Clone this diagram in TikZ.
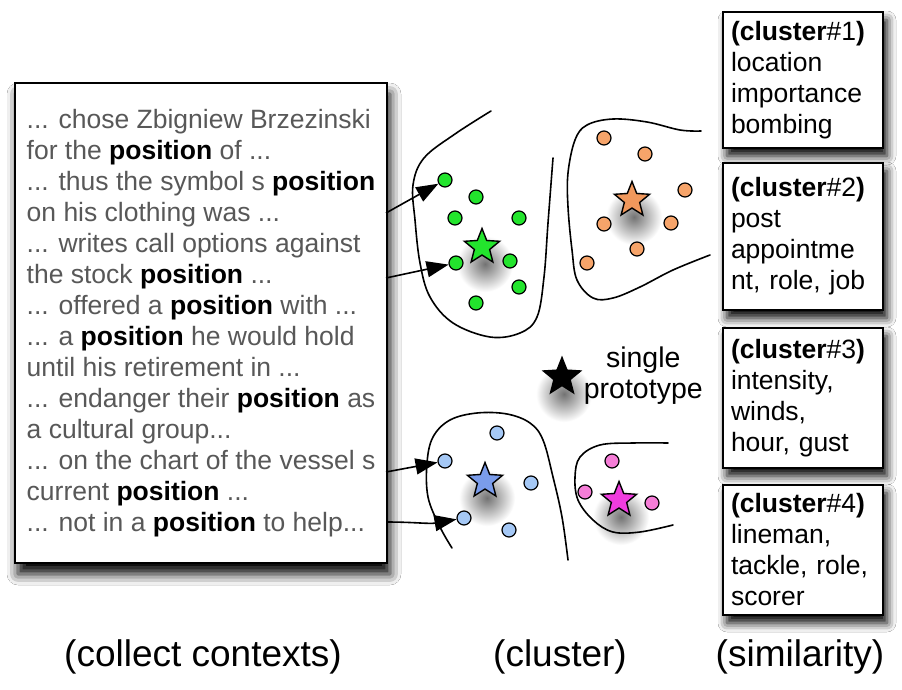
\documentclass[tikz,border=0pt]{standalone}
\usepackage{fontspec}
\setmainfont{Liberation Sans}
\usepackage{tikz}
\usetikzlibrary{shapes.geometric,arrows.meta,shadows.blur,positioning}
\definecolor{ctxgray}{RGB}{88,88,88}
\definecolor{dotgreen}{RGB}{35,228,45}
\definecolor{dotorange}{RGB}{246,164,106}
\definecolor{starorange}{RGB}{240,152,92}
\definecolor{dotblue}{RGB}{165,200,245}
\definecolor{starblue}{RGB}{122,156,235}
\definecolor{dotpink}{RGB}{245,125,215}
\definecolor{starpink}{RGB}{240,60,222}
\newcommand{\kw}{{\color{black}\bfseries position}}
\newcommand{\clu}[1]{\textbf{(cluster}\##1\textbf{)}}

\begin{document}
\begin{tikzpicture}[x=1pt, y=-1pt,
    every node/.style={font=\fontsize{26.5}{31}\selectfont},
    ctxbox/.style={draw, line width=1.6pt, fill=white, align=left, text=ctxgray,
                   minimum width=372pt, minimum height=480pt, inner sep=0pt,
                   blur shadow={shadow xshift=3pt, shadow yshift=-11pt, shadow blur radius=11pt, shadow opacity=100}},
    simbox/.style={draw, line width=1.6pt, fill=white, align=left, text width=144pt,
                   minimum width=160pt, inner sep=0pt,
                   blur shadow={shadow xshift=4pt, shadow yshift=-8pt, shadow blur radius=9pt, shadow opacity=100}},
    dot/.style={circle, draw, line width=1.2pt, minimum size=14pt, inner sep=0pt},
    proto/.style={star, star points=5, star point ratio=2.3, draw, line width=1.4pt,
                  minimum size=37pt, inner sep=0pt},
    glow/.style={inner color=black!55, outer color=white},
    bound/.style={line width=1.6pt, line cap=round},
    arrow/.style={-{Triangle[length=22pt,width=16pt]}, line width=1.6pt},
    caption/.style={font=\fontsize{37}{44}\selectfont}
]
\fill[white] (0,0) rectangle (902,690);
\useasboundingbox (0,0) rectangle (902,690);

% contexts
\node[ctxbox] (ctx) at (201,323) {%
... chose Zbigniew Brzezinski\\
for the \kw{} of ...\\
... thus the symbol s \kw\\
on his clothing was ...\\
... writes call options against\\
the stock \kw{} ...\\
... offered a \kw{} with ...\\
... a \kw{} he would hold\\
until his retirement in ...\\
... endanger their \kw{} as\\
a cultural group...\\
... on the chart of the vessel s\\
current \kw{} ...\\
... not in a \kw{} to help...};

% similarity boxes
\node[simbox, minimum height=136pt] (c1) at (803,80)    {\clu{1}\\location\\importance\\bombing};
\node[simbox, minimum height=147pt] (c2) at (803,236.5) {\clu{2}\\post\\appointme\\nt, role, job};
\node[simbox, minimum height=140pt] (c3) at (803,398)   {\clu{3}\\intensity,\\winds,\\hour, gust};
\node[simbox, minimum height=130pt] (c4) at (803,550)   {\clu{4}\\lineman,\\tackle, role,\\scorer};

% star shadows
\shade[glow] (485,264) circle (28);
\shade[glow] (634,217) circle (28);
\shade[glow] (487,498) circle (28);
\shade[glow] (621,517) circle (28);
\shade[glow] (564,394) circle (28);

% cluster boundaries
\draw[bound] plot[smooth, tension=0.6] coordinates {(491,111) (455,134) (424,158) (413,185) (415,220)
    (420,263) (430,297) (453,323) (490,337) (520,333) (537,317) (544,277) (548,223) (553,158)};
\draw[bound] plot[smooth, tension=0.6] coordinates {(701,131) (680,130) (647,122) (613,119) (587,125)
    (575,140) (568,173) (568,207) (572,250) (577,280) (593,298) (613,298) (640,287) (673,270) (710,255)};
\draw[bound] plot[smooth, tension=0.6] coordinates {(452,548) (440,527) (428,497) (427,463) (433,437)
    (450,420) (477,413) (507,414) (530,423) (543,440) (553,477) (562,517) (568,560)};
\draw[bound] plot[smooth, tension=0.6] coordinates {(668,443) (633,443) (600,445) (580,457) (575,477)
    (578,500) (593,520) (613,532) (640,532) (673,525)};

% green cluster
\foreach \n/\x/\y in {1/445/180, 2/476/197, 3/455/218, 4/519/218, 5/456/263, 6/510/261, 7/519/287, 8/476/303}
    \node[dot, fill=dotgreen] (g\n) at (\x,\y) {};
\node[proto, fill=dotgreen] (gs) at (482,247) {};

% orange cluster
\foreach \n/\x/\y in {1/604/138, 2/645/154, 3/685/190, 4/604/224, 5/671/223, 6/637/249, 7/587/263}
    \node[dot, fill=dotorange] (o\n) at (\x,\y) {};
\node[proto, fill=starorange] (os) at (632,200) {};

% blue cluster
\foreach \n/\x/\y in {1/497/433, 2/445/461, 3/531/483, 4/464/518, 5/509/530}
    \node[dot, fill=dotblue] (b\n) at (\x,\y) {};
\node[proto, fill=starblue] (bs) at (485,481) {};

% pink cluster
\foreach \n/\x/\y in {1/612/461, 2/585/492, 3/652/503}
    \node[dot, fill=dotpink] (p\n) at (\x,\y) {};
\node[proto, fill=starpink] (ps) at (619,500) {};

% single prototype
\node[proto, fill=black, minimum size=39pt] (single) at (562,377) {};
\node[align=center, font=\fontsize{28.5}{31}\selectfont, right=6pt of single, yshift=1pt] (singlelbl) {single\\prototype};

% arrows
\coordinate (s1) at (386,213);
\coordinate (s2) at (386,278);
\coordinate (s3) at (386,472);
\coordinate (s4) at (386,522);
\draw[arrow] (s1) -- (g1);
\draw[arrow] (s2) -- (g5);
\draw[arrow] (s3) -- (b2);
\draw[arrow] (s4) to[out=0, in=190] (b4);

% captions
\node[caption] (cap1) at (203,657) {(collect contexts)};
\node[caption] (cap2) at (560,657) {(cluster)};
\node[caption] (cap3) at (800,657) {(similarity)};

\end{tikzpicture}
\end{document}
